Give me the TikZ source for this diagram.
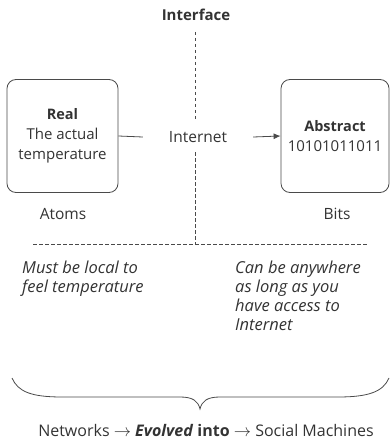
\documentclass[tikz,border=0pt]{standalone}
\usepackage{fontspec}
\setmainfont{Open Sans}
\usetikzlibrary{arrows.meta}
\definecolor{ink}{HTML}{333333}
\definecolor{rule}{HTML}{4A4A4A}
\begin{document}
\begin{tikzpicture}[x=1pt,y=-1pt,
  font=\fontsize{15.5}{20}\selectfont,
  txt/.style={text=ink,inner sep=0pt},
  note/.style={txt,anchor=north west,align=left,
    font=\fontsize{16.5}{19}\selectfont\itshape},
  card/.style={draw=rule,line width=0.8pt,rounded corners=9pt,
    minimum width=111pt,minimum height=113pt,align=center,text=ink,
    font=\fontsize{15}{20}\selectfont},
  sep/.style={draw=rule,line width=0.7pt,dash pattern=on 3.5pt off 2.5pt},
  link/.style={draw=rule,line width=0.8pt}]
\useasboundingbox (0,0) rectangle (390,443);

% title of the dividing line
\node[txt,font=\fontsize{15}{18}\selectfont\bfseries] (iface) at (196,15) {Interface};

% the two worlds
\node[card] (real) at (62.5,136)
  {{\fontsize{14.5}{20}\selectfont\bfseries Real}\\The actual\\temperature};
\node[card,minimum width=108pt] (abstract) at (335,136)
  {{\fontsize{14.5}{20}\selectfont\bfseries Abstract}\\10101011011};

% the link through the interface
\node[txt,inner xsep=26pt,minimum height=30pt] (internet) at (198,137) {Internet};
\draw[link] (real.east) -- (internet.west);
\draw[link,-{Latex[length=7pt,width=6pt]}] (internet.east) -- (abstract.west);

\node[txt] (atoms) at (63,214) {Atoms};
\node[txt] (bits) at (337,214) {Bits};

% dashed dividers
\coordinate (hl) at (33,244);
\coordinate (hr) at (368,244);
\coordinate (top) at (195,32);
\draw[sep] (top) -- (top |- internet.north);
\draw[sep] (top |- internet.south) -- (top |- hl);
\draw[sep] (hl) -- (hr);

% properties of each side
\node[note] (local) at (22,261) {Must be local to\\feel temperature};
\node[note] (anywhere) at (235,261) {Can be anywhere\\as long as you\\have access to\\Internet};

% brace gathering everything above
\draw[rule,line width=0.8pt] (12,378) .. controls (18,392) and (32,397) .. (62,397)
  -- (180,397) .. controls (193,397) and (198,401) .. (200,409)
  .. controls (202,401) and (207,397) .. (220,397)
  -- (338,397) .. controls (368,397) and (383,392) .. (389,378);

\node[txt,font=\fontsize{16}{20}\selectfont] (evolve) at (206,430)
  {Networks \(\rightarrow\) \textbf{\textit{Evolved} into} \(\rightarrow\) Social Machines};
\end{tikzpicture}
\end{document}
